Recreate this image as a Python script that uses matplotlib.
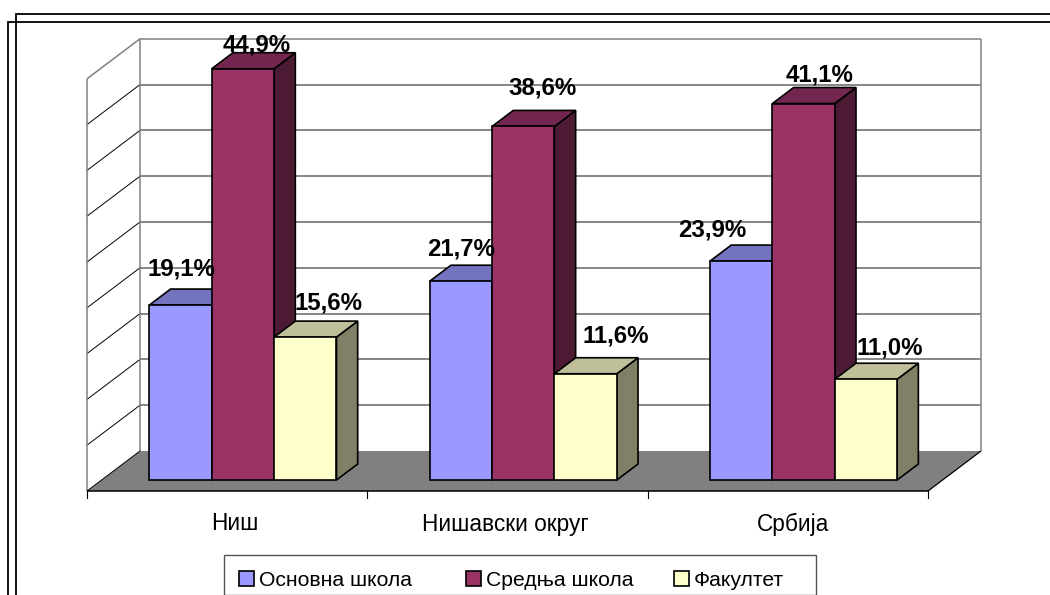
import matplotlib
matplotlib.use("Agg")
import matplotlib.pyplot as plt
from matplotlib.patches import Polygon, Patch, Rectangle

plt.rcParams['font.family'] = ['Liberation Sans', 'DejaVu Sans']

categories = ['Ниш', 'Нишавски округ', 'Србија']
series_names = ['Основна школа', 'Средња школа', 'Факултет']
osnovna = [19.1, 21.7, 23.9]
srednja = [44.9, 38.6, 41.1]
fakultet = [15.6, 11.6, 11.0]
series = [osnovna, srednja, fakultet]
tick_values = list(range(0, 50, 5))

front_colors = ['#9999FF', '#993366', '#FFFFCC']
top_colors = ['#7373BF', '#732650', '#BFBF99']
side_colors = ['#4D4D80', '#4D1A33', '#808066']

W, H = 1050, 595
fig = plt.figure(figsize=(W / 100, H / 100), dpi=100)
# axes = front plane of the 3d box
ax = fig.add_axes([87 / W, 1 - 491 / H, 841 / W, 412.2 / H])
ax.set_xlim(0, 3)
ax.set_ylim(0, 45)
ax.axis('off')

# depth of the box and of the bars, in data units
DX = 53 / (841 / 3)
DY = 40 / (412.2 / 45)
D0, D1 = 11 / 40, 27 / 40
BAR_W = 0.2225
BAR_START = 0.1705

# label offsets from the top centre of the front face, pixels
label_dx = [[1, 14, 23], [0, 19, 30], [-29, 16, 24]]
label_dy = [[36, 24, 34], [32, 38, 38], [31, 29, 31]]
# category label offsets, pixels
cat_dx = [8, -2, 5]
# left edge of each legend entry, pixels
legend_x = [239, 466, 674]


def poly(pts, **kw):
    ax.add_patch(Polygon(pts, closed=True, clip_on=False, **kw))


def line(xs, ys, **kw):
    ax.plot(xs, ys, clip_on=False, solid_capstyle='butt', **kw)


# floor
poly([(0, 0), (3, 0), (3 + DX, DY), (DX, DY)], fc='#808080', ec='none', zorder=1)

# walls
top = tick_values[-1]
for v in tick_values[1:]:
    c = '#808080' if v == top else '#666666'
    line([DX, 3 + DX], [v + DY, v + DY], color=c, lw=1.1, zorder=2)
    if v < top:
        line([0, DX], [v, v + DY], color='black', lw=0.7, zorder=2)
line([0, DX], [top, top + DY], color='#808080', lw=1.1, zorder=2)
line([0, 0], [0, top], color='#808080', lw=1.1, zorder=2)
line([DX, DX], [DY, top + DY], color='#808080', lw=1.1, zorder=2)
line([3 + DX, 3 + DX], [DY, top + DY], color='#808080', lw=1.1, zorder=2)

# floor edges and ticks
line([0, DX], [0, DY], color='black', lw=0.7, zorder=2)
line([3, 3 + DX], [0, DY], color='black', lw=0.9, zorder=2)
line([0, 3], [0, 0], color='black', lw=1.1, zorder=3)
for i in range(4):
    ax.plot([i, i], [0, -0.75], color='black', lw=0.8, clip_on=False, zorder=3)

# bars
z = 4
for i in range(len(categories)):
    for s in range(len(series)):
        v = series[s][i]
        x0 = i + BAR_START + s * BAR_W + D0 * DX
        x1 = x0 + BAR_W
        y0 = D0 * DY
        y1 = y0 + v
        ddx = (D1 - D0) * DX
        ddy = (D1 - D0) * DY
        kw = dict(ec='black', lw=1.2, joinstyle='miter', zorder=z)
        poly([(x1, y0), (x1 + ddx, y0 + ddy), (x1 + ddx, y1 + ddy), (x1, y1)], fc=side_colors[s], **kw)
        poly([(x0, y1), (x1, y1), (x1 + ddx, y1 + ddy), (x0 + ddx, y1 + ddy)], fc=top_colors[s], **kw)
        poly([(x0, y0), (x1, y0), (x1, y1), (x0, y1)], fc=front_colors[s], **kw)
        z += 1

# value labels
for i in range(len(categories)):
    for s in range(len(series)):
        v = series[s][i]
        x = i + BAR_START + (s + 0.5) * BAR_W + D0 * DX
        txt = f"{v:.1f}%".replace('.', ',')
        ax.annotate(txt, (x, D0 * DY + v), xytext=(label_dx[i][s], label_dy[i][s]),
                    textcoords='offset pixels', ha='center', va='center',
                    fontsize=17.3, fontweight='bold', color='black',
                    annotation_clip=False, zorder=50)

# category labels
for i, name in enumerate(categories):
    ax.annotate(name, (i + 0.5, 0), xytext=(cat_dx[i], -33), textcoords='offset pixels',
                ha='center', va='center', fontsize=16.3, color='black', annotation_clip=False)

# legend box, one legend per entry so the uneven gaps can be kept
fig.add_artist(Rectangle((223.5 / W, 1 - 594.5 / H), 592.5 / W, 39.5 / H, transform=fig.transFigure,
                         fc='white', ec='#555555', lw=1.0))
for s in range(3):
    h = Patch(fc=front_colors[s], ec='black', lw=1.2, label=series_names[s])
    fig.legend(handles=[h], loc='lower left', bbox_to_anchor=(legend_x[s] / W, 1 - 590 / H),
               frameon=False, fontsize=15.2, handlelength=0.72, handleheight=0.72,
               handletextpad=0.22, borderpad=0, borderaxespad=0)

# outer frames, run off the right and bottom of the picture
for x, y, lw in [(15.5, 14, 1.3), (7.5, 21.5, 1.3)]:
    fig.add_artist(plt.Line2D([x / W, x / W, 1], [0, 1 - y / H, 1 - y / H], color='black', lw=lw,
                              solid_joinstyle='miter'))

fig.savefig('out.png', dpi=100, facecolor='white')
